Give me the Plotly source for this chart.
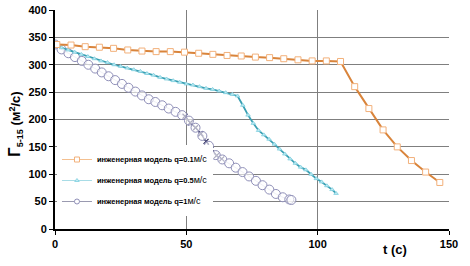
import plotly.graph_objects as go

# --- data ---
t_q01 = [0.7, 6.1, 11.5, 16.9, 22.3, 27.7, 33.1, 38.5, 43.9, 49.3, 54.7, 60.1, 65.5, 70.9,
         76.3, 81.7, 87.1, 92.5, 97.9, 103.3, 108.7, 114.1, 119.5, 124.9, 130.3, 135.7,
         141.1, 146.5]
g_q01 = [337, 336, 333, 332, 330, 327, 325, 324, 324, 323, 321, 319, 317, 316,
         314, 313, 311, 309, 307, 307, 306, 260, 220, 181, 150, 125, 104, 85]

t_q05 = [0, 2.5, 5, 7.5, 10, 12.5, 15, 17.5, 20, 22.5, 25, 27.5, 30, 32.5, 35, 37.5, 40,
         42.5, 45, 47.5, 50, 52.5, 55, 57.5, 60, 62.5, 65, 67.5, 69.5, 71.5, 73.5, 75.5,
         77.5, 79.5, 81.5, 83.5, 85.5, 87.5, 89.5, 91.5, 93.5, 95.5, 97.5, 99.5, 101.5,
         103.5, 105.5, 107]
g_q05 = [336, 331, 327, 323, 319, 315, 311, 307, 304, 300, 297, 294, 291, 288, 284, 281, 277,
         274, 271, 268, 265, 263, 260, 257, 255, 252, 249, 246, 243, 226, 208, 193,
         180, 172, 164, 155, 146, 137, 128, 120, 113, 108, 100, 92, 86,
         79, 72, 65]

t_q1 = [0, 2.5, 5.1, 7.6, 10.2, 12.7, 15.3, 17.8, 20.4, 22.9, 25.5, 28.0, 30.6, 33.1, 35.7,
        38.2, 40.8, 43.3, 45.9, 48.4, 51.0, 53.5, 56.1, 58.6, 61.2, 63.7, 66.3, 68.8, 71.4,
        73.9, 76.5, 79.0, 81.6, 84.1, 86.7, 89.2, 90.0]
g_q1 = [337, 328, 321, 314, 307, 300, 293, 286, 279, 272, 265, 258, 251, 244, 237,
        232, 226, 220, 214, 208, 198, 185, 170, 152, 135, 127, 120, 112, 104,
        96, 88, 80, 72, 64, 58, 54, 53]

# dark overlay segment (crosses) on the q=1 curve
t_dark = [49.5, 51.5, 53.5, 55.5, 57.5, 59.5, 61.5, 63.5]
g_dark = [206, 194, 185, 174, 160, 146, 134, 128]

names = ["<b>инженерная модель q=0.1</b><span style='font-size:9px'>м/с</span>",
         "<b>инженерная модель q=0.5</b><span style='font-size:9px'>м/с</span>",
         "<b>инженерная модель q=1</b><span style='font-size:9px'>м/с</span>"]

C_OR, C_ORM = "#d9843b", "#f2b07a"
C_TE, C_TEM = "#3a9fb2", "#7fcfdf"
C_PU = "#8f8fb8"

fig = go.Figure()
fig.add_trace(go.Scatter(x=t_dark, y=g_dark, mode="lines+markers", showlegend=False,
                         line=dict(color="#3a3a6a", width=1.2),
                         marker=dict(symbol="x-thin", size=5, line=dict(color="#2e2e5e", width=1.2))))
fig.add_trace(go.Scatter(x=t_q1, y=g_q1, mode="lines+markers", showlegend=False,
                         line=dict(color="rgba(160,160,200,0.5)", width=0.8),
                         marker=dict(symbol="circle", size=9, color="rgba(255,255,255,0.6)",
                                     line=dict(color=C_PU, width=1))))
fig.add_trace(go.Scatter(x=t_q05, y=g_q05, mode="lines+markers", showlegend=False,
                         line=dict(color=C_TE, width=1.8),
                         marker=dict(symbol="triangle-up", size=4, color="#bfeaf2",
                                     line=dict(color=C_TEM, width=0.8))))
fig.add_trace(go.Scatter(x=t_q01, y=g_q01, mode="lines+markers", showlegend=False,
                         line=dict(color=C_OR, width=2),
                         marker=dict(symbol="square", size=6, color="white",
                                     line=dict(color=C_ORM, width=1))))

# legend-only entries (small symbols as in the reference legend)
fig.add_trace(go.Scatter(x=[None], y=[None], mode="lines+markers", name=names[0], legendgroup="a",
                         line=dict(color="#f4c090", width=1),
                         marker=dict(symbol="square", size=5, color="white", line=dict(color=C_ORM, width=1))))
fig.add_trace(go.Scatter(x=[None], y=[None], mode="lines+markers", name=names[1], legendgroup="b",
                         line=dict(color="#a8dce6", width=1),
                         marker=dict(symbol="triangle-up", size=4, color="#bfeaf2", line=dict(color=C_TEM, width=0.8))))
fig.add_trace(go.Scatter(x=[None], y=[None], mode="lines+markers", name=names[2], legendgroup="c",
                         line=dict(color="#9a9ab0", width=1),
                         marker=dict(symbol="circle", size=5, color="white", line=dict(color=C_PU, width=1))))

axis_font = dict(family="Liberation Sans, Arial, sans-serif", size=11, color="black")
fig.update_layout(
    width=470, height=266,
    margin=dict(l=55, r=21, t=10, b=37),
    paper_bgcolor="white", plot_bgcolor="white",
    font=dict(family="Liberation Sans, Arial, sans-serif", color="black"),
    xaxis=dict(range=[0, 150], tickvals=[0, 50, 100, 150], ticktext=["<b>0</b>", "<b>50</b>", "<b>100</b>", "<b>150</b>"],
               showgrid=True, gridcolor="#7f7f7f", gridwidth=1, zeroline=False, automargin=False,
               showline=True, linecolor="black", linewidth=2, ticks="outside", ticklen=4,
               tickcolor="black", tickfont=axis_font, fixedrange=True),
    yaxis=dict(range=[0, 400], tickvals=[0, 50, 100, 150, 200, 250, 300, 350, 400],
               ticktext=["<b>%d</b>" % v for v in [0, 50, 100, 150, 200, 250, 300, 350, 400]],
               showgrid=True, gridcolor="#7f7f7f", gridwidth=1, zeroline=False, automargin=False,
               showline=True, linecolor="black", linewidth=2, ticks="outside", ticklen=4,
               tickcolor="black", tickfont=axis_font, fixedrange=True),
    legend=dict(x=0.005, y=(229 - 145) / 219, xanchor="left", yanchor="top", bgcolor="white",
                font=dict(size=7.5, family="Liberation Sans, Arial, sans-serif", color="black"),
                itemwidth=30, tracegroupgap=2),
    showlegend=True,
)

fig.add_annotation(text="<b>t (c)</b>", xref="paper", yref="paper", x=(395 - 55) / 394, y=-(249 - 229) / 219,
                   showarrow=False, font=dict(size=13, family="Liberation Sans, Arial, sans-serif"),
                   xanchor="center", yanchor="middle")
fig.add_annotation(text="<b><span style='font-size:17px'>Г</span><sub>5-15</sub> (м<sup>2</sup>/с)</b>",
                   xref="paper", yref="paper", x=-(55 - 15) / 394, y=(229 - 124) / 219,
                   showarrow=False, textangle=-90, font=dict(size=13, family="Liberation Sans, Arial, sans-serif"),
                   xanchor="center", yanchor="middle")

fig.write_html("out.html", config={"displayModeBar": False},
               post_script="document.body.style.margin='0';document.body.style.padding='0';")
